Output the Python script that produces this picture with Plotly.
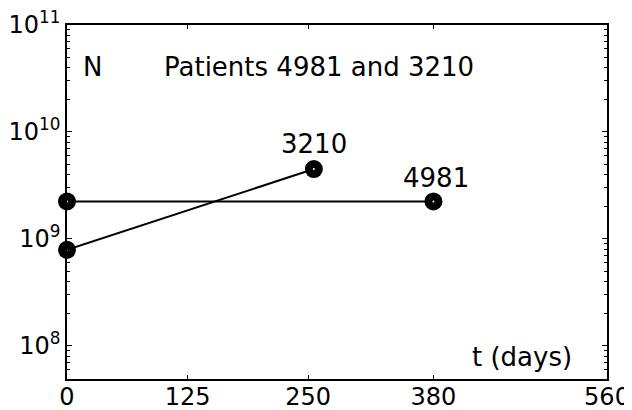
import plotly.graph_objects as go

# Data
p4981_t = [0, 380]
p4981_n = [2.24e9, 2.24e9]
p3210_t = [0, 256]
p3210_n = [7.9e8, 4.5e9]

x_ticks = [0, 125, 250, 380, 560]
y_ticks = [1e8, 1e9, 1e10, 1e11]
y_ticktext = ["10<sup>8</sup>", "10<sup>9</sup>", "10<sup>10</sup>", "10<sup>11</sup>"]
minor_y = [k * 10 ** d for d in range(7, 11) for k in range(2, 10) if 5e7 <= k * 10 ** d <= 1e11]

FONT = "DejaVu Sans"

fig = go.Figure()
for t, n in [(p4981_t, p4981_n), (p3210_t, p3210_n)]:
    fig.add_trace(go.Scatter(x=t, y=n, mode="lines+markers",
                             line=dict(color="black", width=2),
                             marker=dict(symbol="circle", size=18, color="black"),
                             showlegend=False, cliponaxis=False))
    fig.add_trace(go.Scatter(x=t, y=n, mode="markers",
                             marker=dict(symbol="circle", size=2, color="white"),
                             showlegend=False, cliponaxis=False))

ann = dict(font=dict(family=FONT, size=26, color="black"), showarrow=False,
           xref="x", yref="y")
fig.add_annotation(text="N", x=14, y=10.604, xanchor="left", yanchor="middle", **ann)
fig.add_annotation(text="Patients 4981 and 3210", x=99, y=10.604, xanchor="left",
                   yanchor="middle", **ann)
fig.add_annotation(text="t (days)", x=526, y=7.90, xanchor="right", yanchor="middle", **ann)
fig.add_annotation(text="3210", x=p3210_t[1], y=9.89, xanchor="center", yanchor="middle", **ann)
fig.add_annotation(text="4981", x=p4981_t[1] + 3, y=9.565, xanchor="center", yanchor="middle", **ann)

fig.update_layout(
    width=624, height=402,
    margin=dict(l=59, r=25, t=17, b=31),
    paper_bgcolor="white", plot_bgcolor="white",
    font=dict(family=FONT, size=24, color="black"),
    xaxis=dict(range=[0, 560], tickvals=x_ticks, ticks="inside", ticklen=4,
               showline=True, linecolor="black", linewidth=1.5, mirror="ticks",
               tickcolor="black", showgrid=False, zeroline=False, automargin=False,
               ticklabeloverflow="allow", ticklabelstandoff=-5),
    yaxis=dict(type="log", range=[7.69, 11], tickvals=y_ticks, ticktext=y_ticktext,
               ticks="inside", ticklen=5, tickcolor="black",
               showline=True, linecolor="black", linewidth=1.5, mirror="ticks",
               showgrid=False, zeroline=False, automargin=False,
               ticklabeloverflow="allow",
               minor=dict(tickvals=minor_y, ticks="inside", ticklen=3, tickcolor="black",
                          showgrid=False)),
)

fig.write_html("out.html")
